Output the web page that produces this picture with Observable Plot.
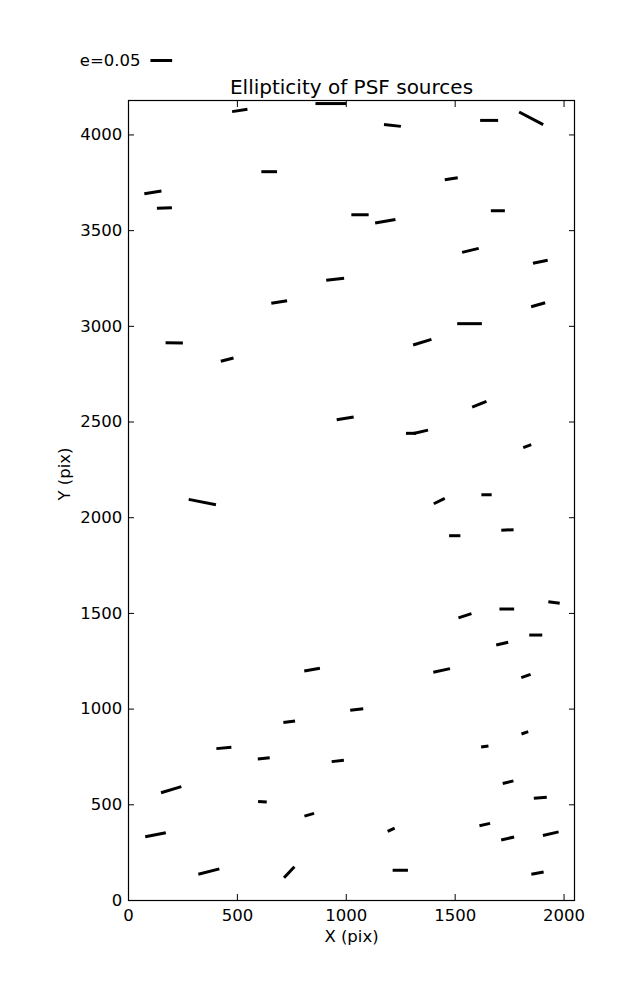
<!DOCTYPE html>
<html>
<head>
<meta charset="utf-8">
<script src="https://cdn.jsdelivr.net/npm/d3@7"></script>
<script src="https://cdn.jsdelivr.net/npm/@observablehq/plot@0.6"></script>
<style>
  html, body { margin: 0; padding: 0; background: #fff; }
  svg { display: block; }
</style>
</head>
<body>
<div id="chart"></div>
<script>
// Source positions (pixels on the detector)
const xs = [511, 929, 1212, 1656, 1849, 646, 1482, 112, 165, 1063, 1179, 1696, 1570, 1891, 949, 692, 1881, 1566, 210, 1349,
            453, 995, 1611, 1297, 1342, 1831, 339, 1427, 1644, 1498, 1740, 1954, 1737, 1545, 1870, 1716, 843, 1438, 1825, 1048,
            738, 1820, 438, 1636, 621, 961, 196, 615, 1743, 1891, 830, 124, 1206, 1636, 1741, 1939, 369, 738, 1248, 1878];
const ys = [4128, 4164, 4050, 4076, 4087, 3808, 3771, 3700, 3618, 3583, 3549, 3604, 3397, 3337, 3246, 3127, 3113, 3014, 2914, 2917,
            2826, 2519, 2593, 2441, 2449, 2374, 2082, 2087, 2120, 1906, 1936, 1557, 1523, 1488, 1387, 1342, 1206, 1202, 1173, 998,
            934, 876, 797, 805, 743, 729, 579, 516, 618, 537, 448, 344, 370, 397, 324, 349, 151, 148, 158, 143];
// Ellipticity magnitude
const es = [0.0357, 0.0707, 0.0392, 0.0415, 0.0627, 0.0362, 0.0302, 0.0399, 0.0346, 0.0399, 0.0475, 0.0323, 0.0394, 0.0346, 0.0415, 0.0369, 0.0336, 0.0569, 0.0399, 0.0442,
            0.0302, 0.0396, 0.0355, 0.0230, 0.0343, 0.0196, 0.0640, 0.0281, 0.0237, 0.0260, 0.0283, 0.0265, 0.0339, 0.0316, 0.0300, 0.0283, 0.0366, 0.0394, 0.0228, 0.0302,
            0.0272, 0.0164, 0.0348, 0.0171, 0.0276, 0.0283, 0.0488, 0.0200, 0.0253, 0.0300, 0.0230, 0.0484, 0.0177, 0.0251, 0.0306, 0.0371, 0.0500, 0.0348, 0.0353, 0.0288];
// Position angle in degrees (counter-clockwise from +X)
const thetas = [8.6, 0, -6.7, 0, -27.8, 0, 8.7, 9, 2, 0, 10.2, 0, 13.5, 11.5, 6, 9.5, 16, 0, -1, 17,
                14.7, 9, 21.6, 0, 12.8, 20.6, -11, 25.8, 0, 0, 3, -8.4, 0, 18.4, 0, 12.5, 9.7, 12.4, 19.7, 7.4,
                8, 19, 5, 7.8, 6, 6, 16.5, -4, 14, 4.4, 15.5, 11, 25.5, 12.4, 13, 13, 14.3, 46.8, 0, 10.7];

const xTicks = [0, 500, 1000, 1500, 2000];
const yTicks = [0, 500, 1000, 1500, 2000, 2500, 3000, 3500, 4000];
const keyValues = [0.05];
const keyLabel = "e=0.05";
const titleText = "Ellipticity of PSF sources";
const xLabel = "X (pix)";
const yLabel = "Y (pix)";

const data = xs.map((x, i) => ({x, y: ys[i], e: es[i], theta: thetas[i]}));
const keyData = keyValues.map(e => ({e}));

const stick = {
  draw(context, l) {
    context.moveTo(0, 0);
    context.lineTo(0, -l);
  }
};

const chart = Plot.plot({
  width: 637,
  height: 1000,
  marginTop: 100,
  marginRight: 63,
  marginBottom: 100,
  marginLeft: 128,
  style: {fontFamily: "'DejaVu Sans', sans-serif", fontSize: "16.5px", color: "black", background: "white", overflow: "visible"},
  x: {domain: [0, 2048], label: null},
  y: {domain: [0, 4180], label: null},
  length: {type: "linear", domain: [0, 0.05], range: [0, 21.7]},
  marks: [
    Plot.frame({stroke: "black", strokeWidth: 1.2}),
    Plot.axisX({anchor: "bottom", ticks: xTicks, tickSize: -6, tickPadding: 14.3, label: null, tickFormat: d => String(d)}),
    Plot.axisX({anchor: "top", ticks: xTicks, tickSize: -6, label: null, tickFormat: () => ""}),
    Plot.axisY({anchor: "left", ticks: yTicks, tickSize: -6, tickPadding: 12.3, label: null, tickFormat: d => String(d)}),
    Plot.axisY({anchor: "right", ticks: yTicks, tickSize: -6, label: null, tickFormat: () => ""}),
    Plot.vector(data, {
      x: "x", y: "y", length: "e", rotate: d => 90 - d.theta, anchor: "middle",
      shape: stick, stroke: "black", strokeWidth: 3, strokeLinecap: "butt"
    }),
    Plot.vector(keyData, {
      length: "e", rotate: 90, anchor: "middle", frameAnchor: "top-left", dx: 32.8, dy: -40,
      shape: stick, stroke: "black", strokeWidth: 3, strokeLinecap: "butt"
    }),
    Plot.text([keyLabel], {frameAnchor: "top-left", textAnchor: "end", lineAnchor: "bottom", dx: 12, dy: -35, fill: "black"}),
    Plot.text([titleText], {frameAnchor: "top", lineAnchor: "bottom", dy: -6.7, fontSize: 20, fill: "black"}),
    Plot.text([xLabel], {frameAnchor: "bottom", dy: 41.5, fill: "black"}),
    Plot.text([yLabel], {frameAnchor: "left", rotate: -90, dx: -63.5, fill: "black"})
  ]
});

document.getElementById("chart").appendChild(chart);
</script>
</body>
</html>
